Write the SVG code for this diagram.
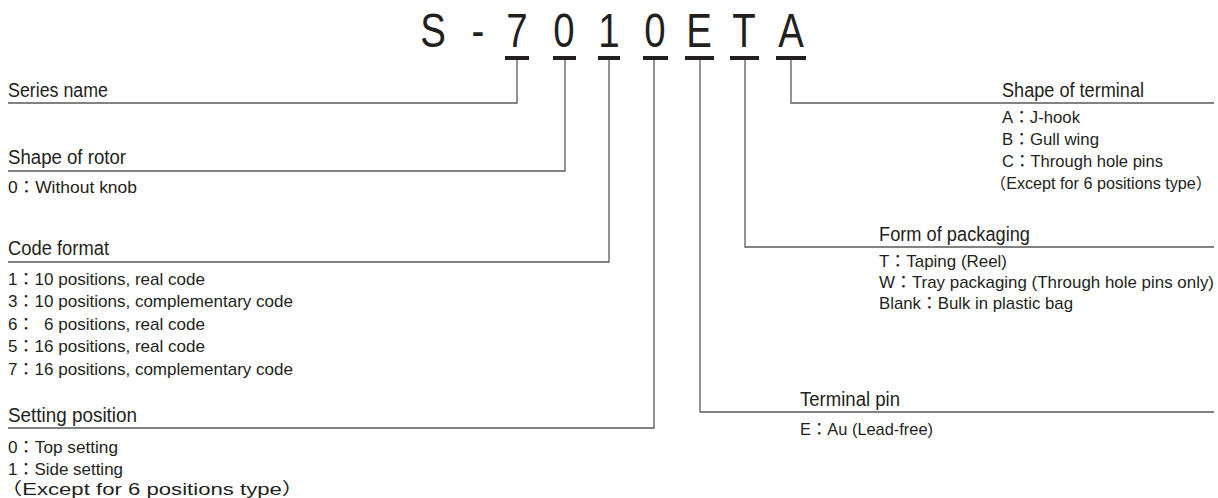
<svg xmlns="http://www.w3.org/2000/svg" width="1218" height="498" viewBox="0 0 1218 498">
<style>
.t{font-family:"Liberation Sans","Noto Sans CJK JP",sans-serif;fill:#231f20}
.h{font-size:19.5px}
.i{font-size:17px}
.big{font-family:"Liberation Sans",sans-serif;font-size:48px;fill:#231f20;text-anchor:middle}
.bar{fill:#231f20}
.c{fill:none;stroke:#5a5a5a;stroke-width:1.3}
</style>
<rect width="1218" height="498" fill="#ffffff"/>
<g id="title">
<text class="big" transform="translate(433,47) scale(0.8,1)">S</text>
<text class="big" transform="translate(478,47) scale(0.8,1)">-</text>
<text class="big" transform="translate(517,47) scale(0.8,1)">7</text>
<text class="big" transform="translate(564,47) scale(0.8,1)">0</text>
<text class="big" transform="translate(609,47) scale(0.8,1)">1</text>
<text class="big" transform="translate(655,47) scale(0.8,1)">0</text>
<text class="big" transform="translate(699,47) scale(0.8,1)">E</text>
<text class="big" transform="translate(744,47) scale(0.8,1)">T</text>
<text class="big" transform="translate(791,47) scale(0.8,1)">A</text>
<rect class="bar" x="505" y="56" width="24" height="4"/>
<rect class="bar" x="553" y="56" width="23" height="4"/>
<rect class="bar" x="598" y="56" width="22" height="4"/>
<rect class="bar" x="643" y="56" width="25" height="4"/>
<rect class="bar" x="685" y="56" width="29" height="4"/>
<rect class="bar" x="730" y="56" width="29" height="4"/>
<rect class="bar" x="776" y="56" width="30" height="4"/>
</g>
<g id="connectors">
<polyline class="c" points="8,103 517,103 517,60"/>
<polyline class="c" points="8,171 565,171 565,60"/>
<polyline class="c" points="8,262 609,262 609,60"/>
<polyline class="c" points="8,428 654,428 654,60"/>
<polyline class="c" points="1214,412 700,412 700,60"/>
<polyline class="c" points="1214,247 745,247 745,60"/>
<polyline class="c" points="1214,103 791,103 791,60"/>
</g>
<g id="series-name">
<text class="t h" x="8" y="97" textLength="100" lengthAdjust="spacingAndGlyphs">Series name</text>
</g>
<g id="shape-of-rotor">
<text class="t h" x="8" y="164" textLength="118" lengthAdjust="spacingAndGlyphs">Shape of rotor</text>
<text class="t i" x="8" y="193" textLength="129" lengthAdjust="spacingAndGlyphs">0：Without knob</text>
</g>
<g id="code-format">
<text class="t h" x="8" y="255" textLength="101" lengthAdjust="spacingAndGlyphs">Code format</text>
<text class="t i" x="8" y="285" textLength="197" lengthAdjust="spacingAndGlyphs">1：10 positions, real code</text>
<text class="t i" x="8" y="307" textLength="285" lengthAdjust="spacingAndGlyphs">3：10 positions, complementary code</text>
<text class="t i" x="8" y="330" textLength="197" lengthAdjust="spacingAndGlyphs" xml:space="preserve">6：  6 positions, real code</text>
<text class="t i" x="8" y="352" textLength="197" lengthAdjust="spacingAndGlyphs">5：16 positions, real code</text>
<text class="t i" x="8" y="375" textLength="285" lengthAdjust="spacingAndGlyphs">7：16 positions, complementary code</text>
</g>
<g id="setting-position">
<text class="t h" x="8" y="422" textLength="129" lengthAdjust="spacingAndGlyphs">Setting position</text>
<text class="t i" x="8" y="453" textLength="110" lengthAdjust="spacingAndGlyphs">0：Top setting</text>
<text class="t i" x="8" y="475" textLength="115" lengthAdjust="spacingAndGlyphs">1：Side setting</text>
<text class="t i" x="0" y="495" textLength="304" lengthAdjust="spacingAndGlyphs">（Except for 6 positions type）</text>
</g>
<g id="shape-of-terminal">
<text class="t h" x="1002" y="97" textLength="142" lengthAdjust="spacingAndGlyphs">Shape of terminal</text>
<text class="t i" x="1002" y="123" textLength="78" lengthAdjust="spacingAndGlyphs">A：J-hook</text>
<text class="t i" x="1002" y="145" textLength="97" lengthAdjust="spacingAndGlyphs">B：Gull wing</text>
<text class="t i" x="1002" y="167" textLength="161" lengthAdjust="spacingAndGlyphs">C：Through hole pins</text>
<text class="t" x="990" y="189" font-size="16" textLength="222" lengthAdjust="spacingAndGlyphs">（Except for 6 positions type）</text>
</g>
<g id="form-of-packaging">
<text class="t h" x="879" y="241" textLength="151" lengthAdjust="spacingAndGlyphs">Form of packaging</text>
<text class="t i" x="879" y="267" textLength="128" lengthAdjust="spacingAndGlyphs">T：Taping (Reel)</text>
<text class="t i" x="879" y="288" textLength="335" lengthAdjust="spacingAndGlyphs">W：Tray packaging (Through hole pins only)</text>
<text class="t i" x="879" y="309" textLength="194" lengthAdjust="spacingAndGlyphs">Blank：Bulk in plastic bag</text>
</g>
<g id="terminal-pin">
<text class="t h" x="800" y="406" textLength="100" lengthAdjust="spacingAndGlyphs">Terminal pin</text>
<text class="t i" x="800" y="435" textLength="133" lengthAdjust="spacingAndGlyphs">E：Au (Lead-free)</text>
</g>
</svg>
